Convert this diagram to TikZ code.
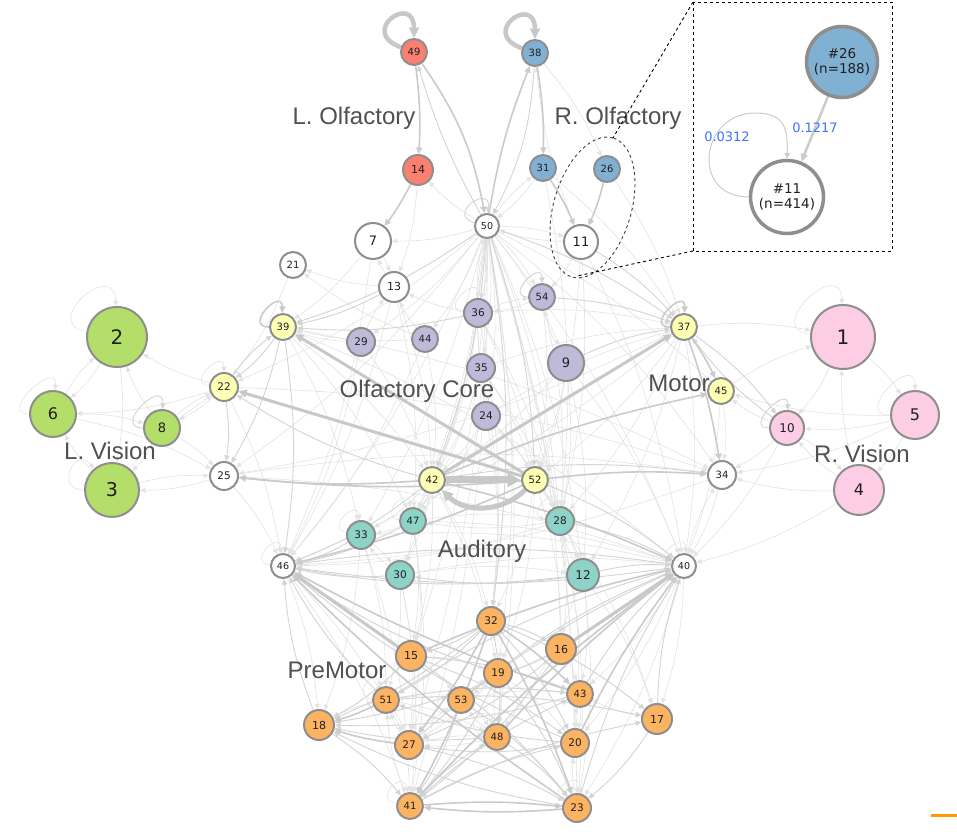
\documentclass[tikz,border=0pt]{standalone}
\usepackage{fontspec}
\setmainfont{DejaVu Sans}
\newfontfamily\labfont{Liberation Sans}
\usetikzlibrary{arrows.meta}
\definecolor{cSal}{HTML}{FB8072}
\definecolor{cBlu}{HTML}{80B1D3}
\definecolor{cYel}{HTML}{FFFFB3}
\definecolor{cPur}{HTML}{BEBADA}
\definecolor{cPin}{HTML}{FCCDE5}
\definecolor{cGre}{HTML}{B3DE69}
\definecolor{cTea}{HTML}{8DD3C7}
\definecolor{cOra}{HTML}{FDB462}
\definecolor{ndbord}{HTML}{8E8E8E}
\definecolor{labcol}{HTML}{505050}
\definecolor{valcol}{HTML}{3F72FF}
\definecolor{eA}{HTML}{E3E3E3}
\definecolor{eB}{HTML}{D4D4D4}
\definecolor{eC}{HTML}{CBCBCB}
\definecolor{eD}{HTML}{C8C8C8}
\definecolor{barcol}{HTML}{FF9A00}
\pgfdeclarelayer{back}
\pgfdeclarelayer{bg}
\pgfsetlayers{back,bg,main}
\tikzset{
  nd/.style={circle, draw=ndbord, line width=2pt, inner sep=0pt, text=black!88},
  tip/.style={-{Triangle[length=4.5pt 1.3, width=4pt 1.3]}},
  ea/.style={tip, draw=eA, line width=0.6pt},
  eb/.style={tip, draw=eB, line width=0.9pt},
  ec/.style={tip, draw=eC, line width=1.6pt},
  ed/.style={tip, draw=eD, line width=3pt},
  ee/.style={tip, draw=eD, line width=5pt},
  grp/.style={font=\labfont\fontsize{24}{24}\selectfont, text=labcol},
  val/.style={font=\fontsize{13}{13}\selectfont, text=valcol},
}
\begin{document}
\begin{tikzpicture}[x=1pt,y=1pt]
\useasboundingbox (0,0) rectangle (957,834);
\begin{pgfonlayer}{back}
\fill[white] (0,0) rectangle (957,834);
\end{pgfonlayer}

% nodes
\foreach \n/\x/\y/\r/\c/\f in {
49/414/782/14/cSal/10, 38/535/781/14/cBlu/10, 14/418/664/16/cSal/11,
31/543/666/14/cBlu/10, 26/607/665/14/cBlu/10, 50/487/608/13/white/9.5,
7/373/593/19/white/13, 11/581/592/18/white/13, 21/293/569/14/white/10,
13/394/547/16/white/11, 39/283/507/14/cYel/10, 36/478/521/15/cPur/10.5,
54/542/537/14/cPur/10, 29/361/492/15/cPur/10.5, 44/425/495/14/cPur/10,
35/481/466/15/cPur/10.5, 9/566/471/19/cPur/13, 24/486/418/15/cPur/10.5,
37/684/507/14/cYel/10, 45/721/443/14/cYel/10, 10/787/406/18/cPin/12,
1/843/497/33/cPin/20, 5/915/419/25/cPin/16, 4/859/344/26/cPin/16,
34/722/359/15/white/10, 2/117/497/31/cGre/20, 6/53/420/24/cGre/16,
8/162/406/19/cGre/13, 3/112/344/28/cGre/19, 22/224/447/15/cYel/10.5,
25/224/358/15/white/10.5, 42/432/354/14/cYel/10, 52/535/354/14/cYel/10,
47/413/313/14/cTea/10, 28/560/313/15/cTea/10.5, 33/361/299/15/cTea/10.5,
30/400/259/15/cTea/10.5, 12/583/259/17/cTea/12, 46/283/268/13/white/9.5,
40/684/268/13/white/9.5, 32/491/213/15/cOra/10.5, 15/411/178/16/cOra/11,
16/561/185/16/cOra/11, 19/498/161/15/cOra/10.5, 51/386/134/14/cOra/10,
53/461/134/14/cOra/10, 43/580/140/14/cOra/10, 18/319/109/16/cOra/11,
17/657/115/16/cOra/11, 27/409/89/15/cOra/10.5, 48/497/97/14/cOra/10,
20/575/91/15/cOra/10.5, 41/410/28/14/cOra/10, 23/577/26/15/cOra/10.5}
  \node[nd, fill=\c, minimum size={(2*\r-2)*1pt}, font={\fontsize{\f}{\f}\selectfont}] (n\n) at (\x,\y) {\n};

% group labels
\node[grp] (lLO) at (354,716) {L. Olfactory};
\node[grp] (lRO) at (618,716) {R. Olfactory};
\node[grp] (lOC) at (417,443) {Olfactory Core};
\node[grp] (lMo) at (679,451) {Motor};
\node[grp] (lLV) at (110,383) {L. Vision};
\node[grp] (lRV) at (862,380) {R. Vision};
\node[grp] (lAu) at (482,283) {Auditory};
\node[grp] (lPM) at (337,164) {PreMotor};

\begin{pgfonlayer}{bg}
% faint edges
\foreach \a/\b in {
2/6, 6/2, 22/2, 22/6, 8/2, 6/8, 3/6, 25/3, 2/3, 8/3, 6/25, 8/25, 3/25, 22/8, 8/22, 3/22,
45/1, 10/45, 5/10, 4/10, 10/4, 5/4, 4/1, 1/5, 4/34, 5/34, 10/34, 4/40, 1/10, 5/45, 37/1,
13/21, 44/21, 14/13, 7/13, 13/7, 50/7, 50/14, 50/31, 31/50, 50/11, 11/50, 26/37, 38/26, 11/38, 31/37,
36/13, 29/13, 44/13, 29/39, 44/39, 7/39,
36/37, 24/37, 35/37, 54/36, 36/54, 9/54, 11/54,
39/42, 39/47, 39/33, 22/46, 25/46, 21/22,
37/40, 37/52, 37/28, 37/12, 37/25, 45/34, 45/40, 10/40, 34/40, 40/34,
42/47, 42/33, 42/30, 52/28, 52/12, 47/33, 33/30, 30/33, 47/30, 28/12, 12/28, 28/47, 47/28, 30/12, 28/46, 47/40, 33/40, 30/40,
46/18, 40/17, 40/23, 46/41, 46/27, 40/20, 40/43, 53/19, 19/53, 53/48, 48/53, 51/53, 53/43, 19/48, 48/19, 51/48,
15/53, 27/53, 19/20, 43/20, 20/43, 17/43, 18/51, 51/27, 27/51, 41/51, 23/20, 27/48, 48/27, 19/27, 15/19, 16/19, 16/43,
50/36, 50/35, 50/24, 50/47, 50/28, 50/33, 50/30, 50/12, 50/46, 50/40, 50/25, 50/34, 50/15, 50/16, 50/19, 50/48,
50/41, 50/23, 50/27, 50/20, 50/22, 50/45, 50/9, 50/54, 50/29, 50/44, 36/50, 35/50, 24/50,
36/42, 36/52, 35/42, 35/52, 24/42, 24/52, 9/52, 9/42, 54/52, 36/32, 35/32, 24/32, 36/28, 35/28, 36/47, 35/47,
24/28, 24/47, 9/28, 9/40, 9/12, 54/28, 29/46, 44/46, 29/42, 44/42, 13/42, 13/47, 7/46, 13/46, 11/52, 11/28, 11/40, 31/28,
39/40, 37/46, 22/34, 25/34, 39/34, 25/40, 34/46,
42/32, 52/32, 42/15, 52/16, 42/19, 52/19, 47/15, 28/16, 33/18, 33/51, 30/51, 12/43, 12/17, 28/17, 28/20, 47/27, 47/41,
28/23, 12/48, 30/41, 33/41, 12/23, 30/27}
  \draw[ea] (n\a) to[bend left=8] (n\b);

% medium-thin edges
\foreach \a/\b in {
39/22, 22/39, 37/10, 10/37, 13/39, 36/39, 50/39, 50/37, 11/37, 9/37, 54/37, 39/25, 39/46, 22/25,
42/34, 42/46, 52/40, 50/32, 50/42, 50/52,
33/46, 47/46, 30/46, 12/46, 28/40, 12/40, 12/30, 46/40, 40/46, 42/22,
32/18, 32/51, 32/17, 32/20, 32/16, 32/15, 32/48, 15/18, 48/18, 43/18, 41/17, 41/43, 41/20, 48/23, 19/41,
18/41, 17/23, 23/18, 27/23, 41/48, 51/17, 51/43, 15/43, 15/20, 15/23, 16/41, 16/27, 16/18, 20/27, 20/51, 19/23,
53/41, 53/23, 19/46, 20/46, 18/46, 51/46, 27/40, 17/40, 51/40, 53/40, 43/40, 23/40}
  \draw[eb] (n\a) to[bend left=8] (n\b);

% medium edges
\foreach \a/\b in {
49/14, 38/31, 31/11, 26/11, 14/7, 37/45, 37/34, 42/45, 42/25, 52/25, 52/46, 42/40, 52/34,
32/27, 32/23, 32/43, 32/41, 51/18, 27/18, 43/46, 23/46, 41/40, 48/40, 20/40, 15/40, 41/23, 23/41}
  \draw[ec] (n\a) to[bend left=5] (n\b);

% thick edges
\foreach \a/\b in {52/39, 52/22, 42/37, 15/46, 16/40}
  \draw[ed] (n\a) -- (n\b);
\draw[ee, line width=7pt] (n42) -- (n52);
\draw[ee] (n52) to[bend left=45] (n42);

% olfactory arcs
\draw[ec] (n49) to[bend left=12] (n50);
\draw[eb] (n50) to[bend left=6] (n49);
\draw[ec] (n50) to[bend left=6] (n38);
\draw[eb] (n38) to[bend left=12] (n50);

% self loops
\draw[ee, line width=4.5pt] (n49) to[out=160,in=90,min distance=46pt] (n49);
\draw[ee, line width=4.5pt] (n38) to[out=160,in=90,min distance=46pt] (n38);
\draw[eb] (n50) to[out=165,in=85,min distance=30pt] (n50);
\draw[ec] (n39) to[out=180,in=92,min distance=26pt] (n39);
\draw[ec] (n37) to[out=180,in=88,min distance=26pt] (n37);
\draw[ea] (n22) to[out=175,in=90,min distance=24pt] (n22);
\draw[ea] (n2) to[out=170,in=92,min distance=48pt] (n2);
\draw[ea] (n6) to[out=180,in=85,min distance=32pt] (n6);
\draw[eb] (n8) to[out=180,in=88,min distance=32pt] (n8);
\draw[ea] (n1) to[out=175,in=92,min distance=48pt] (n1);
\draw[ea] (n5) to[out=180,in=90,min distance=38pt] (n5);
\draw[eb] (n10) to[out=180,in=88,min distance=26pt] (n10);
\draw[ea] (n36) to[out=175,in=90,min distance=24pt] (n36);
\draw[eb] (n54) to[out=180,in=90,min distance=24pt] (n54);
\draw[ea] (n46) to[out=175,in=95,min distance=24pt] (n46);
\draw[ea] (n40) to[out=170,in=85,min distance=24pt] (n40);
\draw[ea] (n41) to[out=170,in=100,min distance=24pt] (n41);
\draw[ea] (n23) to[out=150,in=80,min distance=24pt] (n23);
\draw[ea] (n48) to[out=170,in=110,min distance=24pt] (n48);
\draw[ea] (n47) to[out=175,in=100,min distance=22pt] (n47);
\draw[ea] (n33) to[out=170,in=95,min distance=22pt] (n33);
\draw[ea] (n28) to[out=175,in=100,min distance=22pt] (n28);
\draw[ea] (n51) to[out=175,in=110,min distance=22pt] (n51);
\draw[ea] (n3) to[out=180,in=130,min distance=30pt] (n3);
\end{pgfonlayer}

% zoom ellipse and inset
\draw[dashed, line width=0.9pt, black!75, rotate around={73.6:(592.5,626.5)}] (592.5,626.5) ellipse [x radius=72.5pt, y radius=38.8pt];
\coordinate (eTop) at (613,696);
\coordinate (eBot) at (577,558);
\coordinate (bTL) at (693,832);
\coordinate (bBL) at (693,583);
\draw[dashed, line width=0.9pt, black] (bTL) rectangle (892,583);
\draw[dashed, line width=0.9pt, black] (bTL) -- (eTop);
\draw[dashed, line width=0.9pt, black] (bBL) -- (eBot);

\node[nd, line width=3.5pt, fill=cBlu, minimum size=71pt, align=center, font={\fontsize{13.5}{15}\selectfont}] (i26) at (842,772) {\#26\\(n=188)};
\node[nd, line width=3.5pt, fill=white, minimum size=73pt, align=center, font={\fontsize{13.5}{15}\selectfont}] (i11) at (787,637) {\#11\\(n=414)};
\begin{pgfonlayer}{bg}
\draw[tip, draw=eC, line width=2.5pt] (i26) -- (i11);
\draw[tip, draw=eA!90!black, line width=1pt] (i11.west) .. controls (690,637) and (700,721) .. (755,721) .. controls (785,721) and (788,705) .. (i11.north);
\end{pgfonlayer}
\node[val] (v1) at (727,697) {0.0312};
\node[val] (v2) at (815,706) {0.1217};

% scale bar
\coordinate (sb1) at (931,18.5);
\coordinate (sb2) at (957,18.5);
\draw[barcol, line width=3pt] (sb1) -- (sb2);
\end{tikzpicture}
\end{document}
